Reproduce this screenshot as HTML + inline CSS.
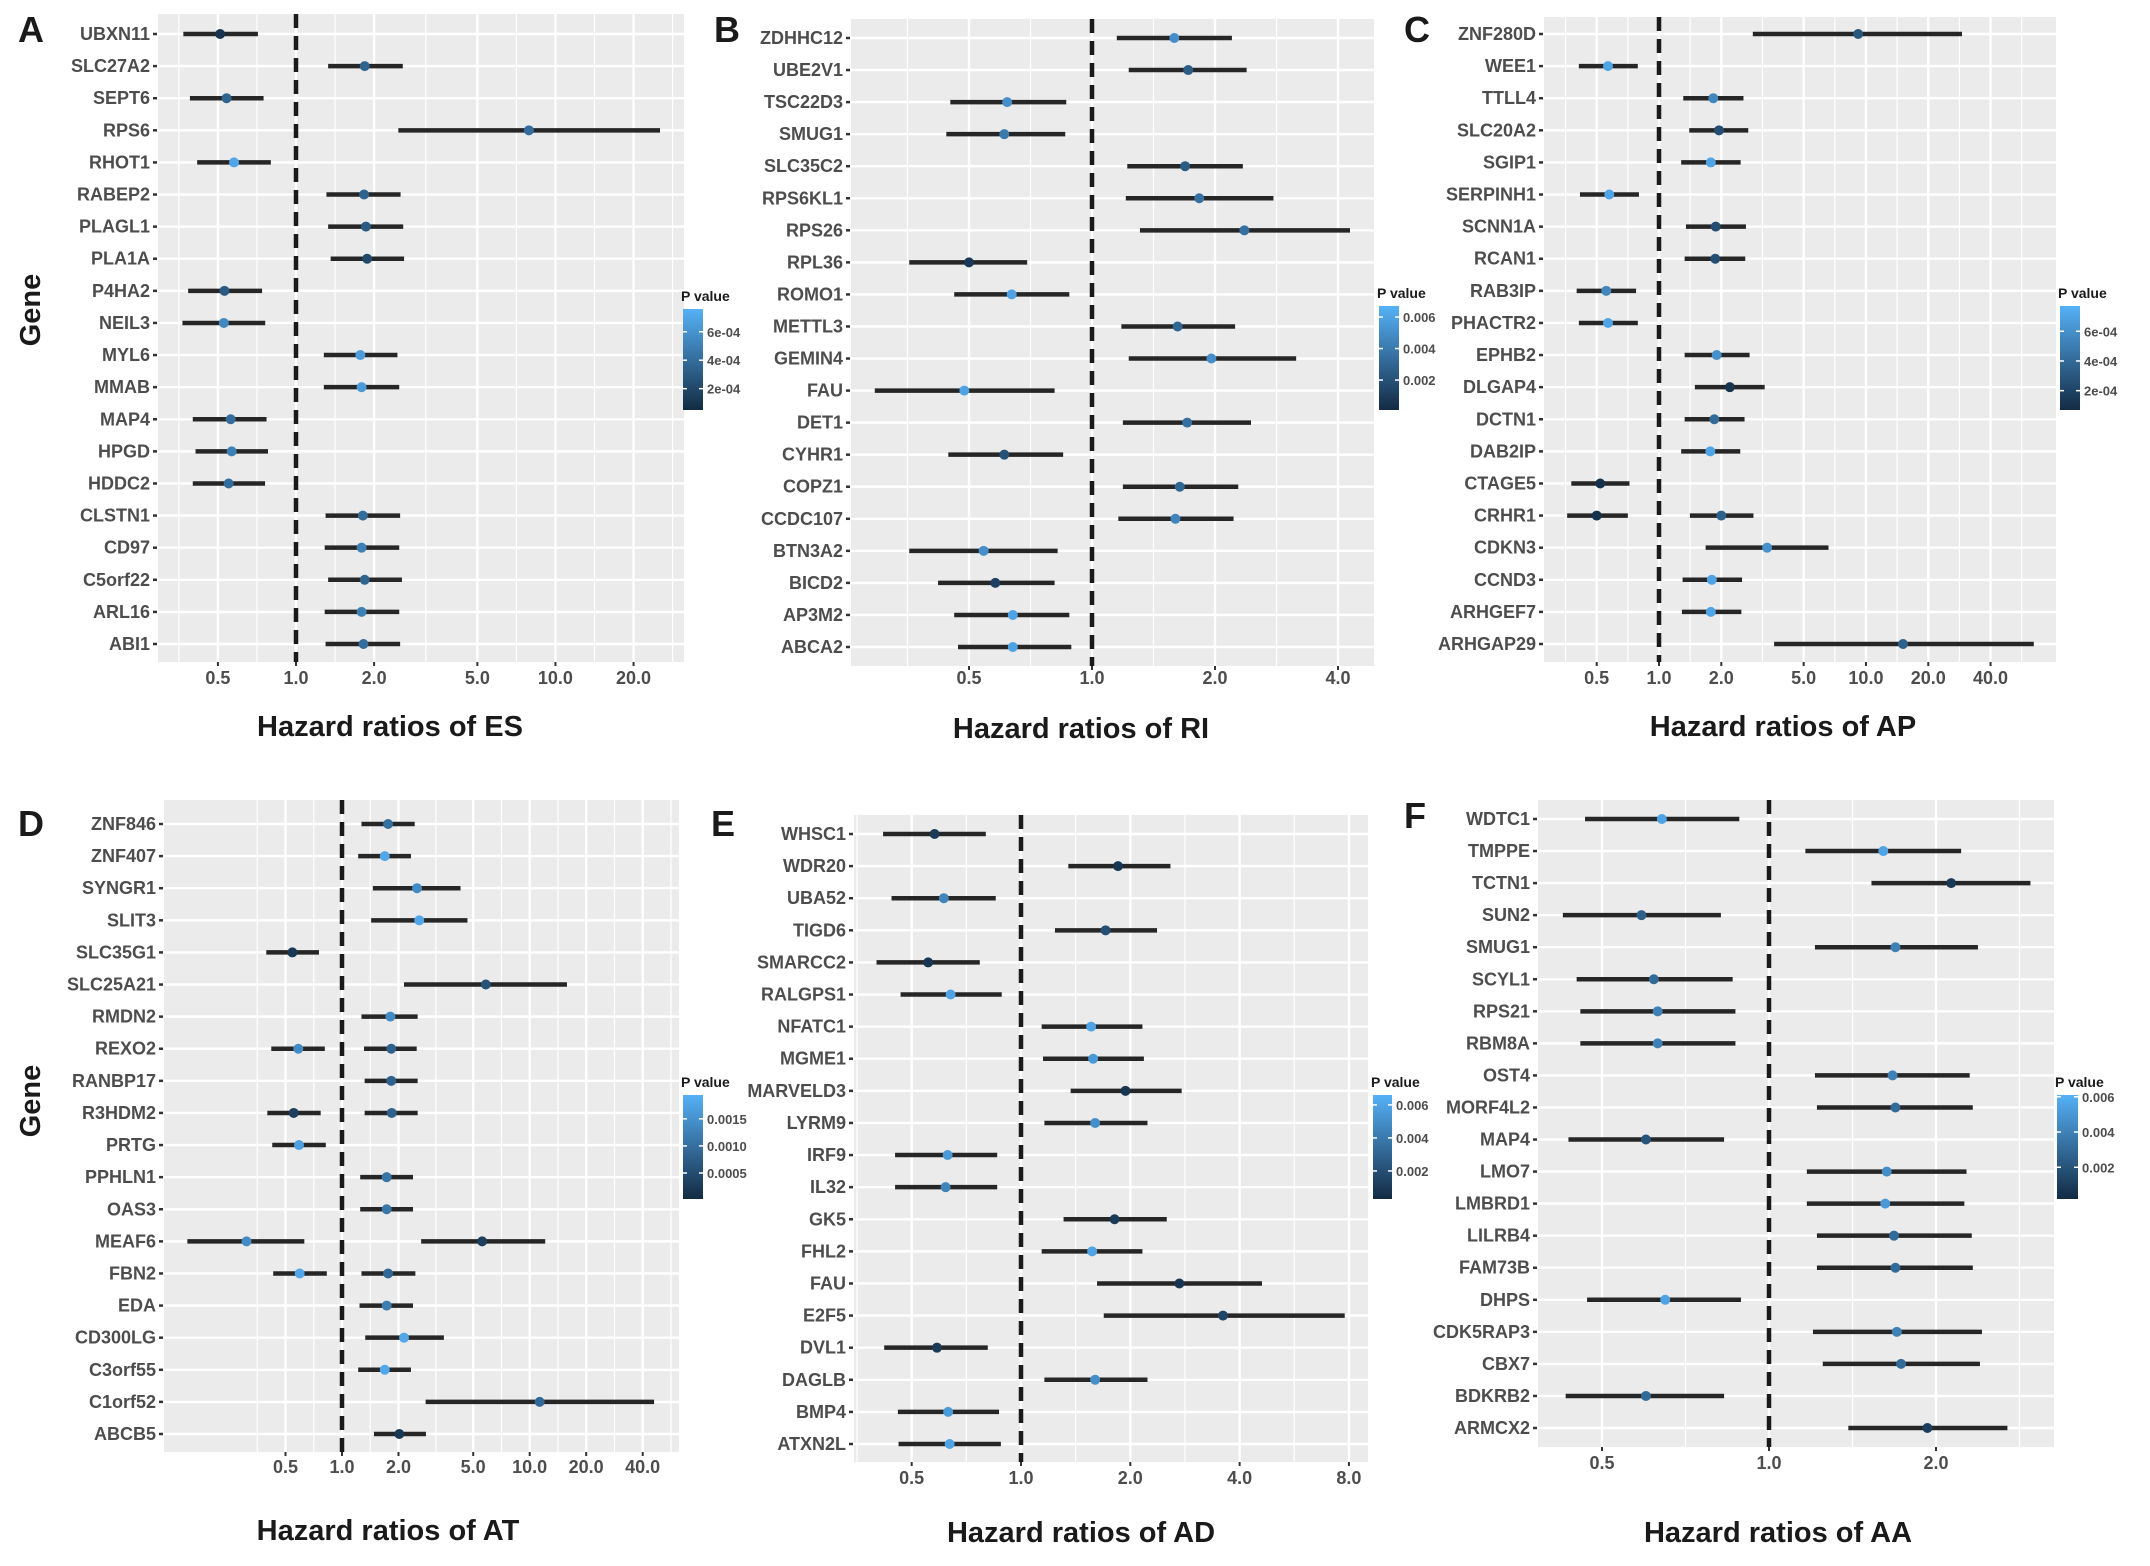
<!DOCTYPE html>
<html><head><meta charset="utf-8">
<style>
html,body{margin:0;padding:0;background:#fff;}
svg{display:block;}
text{font-family:"Liberation Sans",Arial,sans-serif;font-weight:bold;}
</style></head>
<body>
<svg id="fig" width="2150" height="1566" viewBox="0 0 2150 1566" xmlns="http://www.w3.org/2000/svg"></svg>
<script>
// ---------- Panel A (ES) ----------
const aRows = ["UBXN11","SLC27A2","SEPT6","RPS6","RHOT1","RABEP2","PLAGL1","PLA1A","P4HA2","NEIL3","MYL6","MMAB","MAP4","HPGD","HDDC2","CLSTN1","CD97","C5orf22","ARL16","ABI1"];
const aGenes = aRows.slice();
const aHR = [0.51,1.84,0.54,7.9,0.577,1.83,1.86,1.88,0.53,0.527,1.77,1.79,0.56,0.565,0.55,1.81,1.79,1.84,1.79,1.82];
const aLo = [0.368,1.33,0.39,2.48,0.416,1.31,1.33,1.36,0.384,0.365,1.28,1.28,0.40,0.41,0.40,1.30,1.29,1.33,1.29,1.30];
const aHi = [0.713,2.58,0.75,25.3,0.80,2.53,2.59,2.61,0.74,0.761,2.46,2.50,0.77,0.78,0.76,2.52,2.50,2.56,2.50,2.52];
const aP = [1e-4,3.5e-4,3.5e-4,4e-4,7e-4,3.5e-4,3e-4,2e-4,3e-4,5.5e-4,6.5e-4,6.5e-4,4e-4,5e-4,4e-4,4e-4,5e-4,3.5e-4,5e-4,4e-4];
const aTicks = [0.5,1,2,5,10,20];
const aTickLabels = ["0.5","1.0","2.0","5.0","10.0","20.0"];
const aLegTicks = [2e-4,4e-4,6e-4];
const aLegLabels = ["2e-04","4e-04","6e-04"];

// ---------- Panel B (RI) ----------
const bRows = ["ZDHHC12","UBE2V1","TSC22D3","SMUG1","SLC35C2","RPS6KL1","RPS26","RPL36","ROMO1","METTL3","GEMIN4","FAU","DET1","CYHR1","COPZ1","CCDC107","BTN3A2","BICD2","AP3M2","ABCA2"];
const bGenes = bRows.slice();
const bHR = [1.59,1.72,0.62,0.61,1.69,1.83,2.36,0.50,0.636,1.62,1.96,0.487,1.71,0.61,1.64,1.60,0.543,0.58,0.64,0.64];
const bLo = [1.15,1.23,0.45,0.44,1.22,1.21,1.31,0.357,0.46,1.18,1.23,0.294,1.19,0.445,1.19,1.16,0.357,0.42,0.46,0.47];
const bHi = [2.2,2.39,0.865,0.86,2.34,2.78,4.28,0.694,0.88,2.24,3.16,0.81,2.45,0.85,2.28,2.22,0.824,0.81,0.88,0.89];
const bP = [0.005,0.0025,0.005,0.004,0.0025,0.0035,0.0035,0.0008,0.006,0.003,0.005,0.006,0.0035,0.002,0.003,0.0045,0.005,0.0012,0.006,0.006];
const bTicks = [0.5,1,2,4];
const bTickLabels = ["0.5","1.0","2.0","4.0"];
const bLegTicks = [0.002,0.004,0.006];
const bLegLabels = ["0.002","0.004","0.006"];

// ---------- Panel C (AP) ----------
const cRows = ["ZNF280D","WEE1","TTLL4","SLC20A2","SGIP1","SERPINH1","SCNN1A","RCAN1","RAB3IP","PHACTR2","EPHB2","DLGAP4","DCTN1","DAB2IP","CTAGE5","CRHR1","CDKN3","CCND3","ARHGEF7","ARHGAP29"];
const cGenes = ["ZNF280D","WEE1","TTLL4","SLC20A2","SGIP1","SERPINH1","SCNN1A","RCAN1","RAB3IP","PHACTR2","EPHB2","DLGAP4","DCTN1","DAB2IP","CTAGE5","CRHR1","CRHR1","CDKN3","CCND3","ARHGEF7","ARHGAP29"];
const cHR = [9.17,0.567,1.83,1.95,1.78,0.575,1.88,1.87,0.556,0.567,1.90,2.20,1.85,1.77,0.52,0.50,2.0,3.33,1.80,1.78,15.1];
const cLo = [2.84,0.41,1.31,1.40,1.28,0.415,1.35,1.33,0.40,0.41,1.33,1.49,1.33,1.28,0.377,0.36,1.41,1.68,1.30,1.29,3.6];
const cHi = [29.1,0.79,2.56,2.70,2.48,0.80,2.63,2.61,0.775,0.79,2.74,3.24,2.59,2.47,0.72,0.707,2.86,6.59,2.52,2.50,64.7];
const cP = [3e-4,7e-4,5.5e-4,2.5e-4,7e-4,7e-4,2.5e-4,2.5e-4,5.5e-4,7e-4,6e-4,1.2e-4,4e-4,7e-4,1e-4,1e-4,3.5e-4,6e-4,7e-4,7e-4,3.5e-4];
const cTicks = [0.5,1,2,5,10,20,40];
const cTickLabels = ["0.5","1.0","2.0","5.0","10.0","20.0","40.0"];
const cLegTicks = [2e-4,4e-4,6e-4];
const cLegLabels = ["2e-04","4e-04","6e-04"];

// ---------- Panel D (AT) ----------
const dRows = ["ZNF846","ZNF407","SYNGR1","SLIT3","SLC35G1","SLC25A21","RMDN2","REXO2","RANBP17","R3HDM2","PRTG","PPHLN1","OAS3","MEAF6","FBN2","EDA","CD300LG","C3orf55","C1orf52","ABCB5"];
const dGenes = ["ZNF846","ZNF407","SYNGR1","SLIT3","SLC35G1","SLC25A21","RMDN2","REXO2","REXO2","RANBP17","R3HDM2","R3HDM2","PRTG","PPHLN1","OAS3","MEAF6","MEAF6","FBN2","FBN2","EDA","CD300LG","C3orf55","C1orf52","ABCB5"];
const dHR = [1.76,1.69,2.51,2.58,0.544,5.84,1.81,0.585,1.83,1.83,0.553,1.84,0.59,1.73,1.73,0.31,5.58,0.595,1.76,1.73,2.14,1.69,11.3,2.02];
const dLo = [1.27,1.22,1.46,1.43,0.395,2.14,1.27,0.42,1.31,1.32,0.40,1.32,0.425,1.25,1.25,0.15,2.64,0.43,1.27,1.24,1.33,1.22,2.79,1.48];
const dHi = [2.44,2.33,4.28,4.66,0.754,15.8,2.53,0.81,2.5,2.53,0.77,2.53,0.82,2.39,2.39,0.63,12.1,0.83,2.46,2.39,3.49,2.33,46,2.8];
const dP = [0.001,0.0018,0.0014,0.0018,0.0002,0.0006,0.0014,0.0014,0.0008,0.0008,0.0003,0.0008,0.0017,0.0011,0.0011,0.0014,0.0003,0.0018,0.0009,0.0012,0.0018,0.0018,0.0009,0.0002];
const dTicks = [0.5,1,2,5,10,20,40];
const dTickLabels = ["0.5","1.0","2.0","5.0","10.0","20.0","40.0"];
const dLegTicks = [0.0005,0.0010,0.0015];
const dLegLabels = ["0.0005","0.0010","0.0015"];

// ---------- Panel E (AD) ----------
const eRows = ["WHSC1","WDR20","UBA52","TIGD6","SMARCC2","RALGPS1","NFATC1","MGME1","MARVELD3","LYRM9","IRF9","IL32","GK5","FHL2","FAU","E2F5","DVL1","DAGLB","BMP4","ATXN2L"];
const eGenes = eRows.slice();
const eHR = [0.578,1.85,0.613,1.71,0.555,0.64,1.56,1.58,1.94,1.60,0.628,0.62,1.81,1.57,2.73,3.60,0.587,1.60,0.63,0.636];
const eLo = [0.417,1.35,0.44,1.24,0.40,0.466,1.14,1.15,1.37,1.16,0.45,0.45,1.31,1.14,1.62,1.69,0.42,1.16,0.458,0.46];
const eHi = [0.80,2.58,0.852,2.37,0.77,0.885,2.16,2.18,2.77,2.23,0.86,0.86,2.52,2.16,4.61,7.79,0.81,2.23,0.87,0.88];
const eP = [0.001,0.0008,0.0045,0.002,0.0008,0.006,0.006,0.0055,0.0008,0.005,0.0055,0.0045,0.001,0.006,0.0008,0.0015,0.001,0.005,0.0055,0.006];
const eTicks = [0.5,1,2,4,8];
const eTickLabels = ["0.5","1.0","2.0","4.0","8.0"];
const eLegTicks = [0.002,0.004,0.006];
const eLegLabels = ["0.002","0.004","0.006"];

// ---------- Panel F (AA) ----------
const fRows = ["WDTC1","TMPPE","TCTN1","SUN2","SMUG1","SCYL1","RPS21","RBM8A","OST4","MORF4L2","MAP4","LMO7","LMBRD1","LILRB4","FAM73B","DHPS","CDK5RAP3","CBX7","BDKRB2","ARMCX2"];
const fGenes = fRows.slice();
const fHR = [0.641,1.607,2.13,0.589,1.69,0.62,0.63,0.63,1.67,1.69,0.60,1.63,1.62,1.68,1.69,0.65,1.70,1.73,0.60,1.93];
const fLo = [0.466,1.163,1.53,0.425,1.21,0.45,0.457,0.457,1.21,1.22,0.435,1.17,1.17,1.22,1.22,0.47,1.20,1.25,0.43,1.39];
const fHi = [0.884,2.22,2.96,0.819,2.38,0.86,0.87,0.87,2.30,2.33,0.83,2.27,2.25,2.32,2.33,0.89,2.42,2.40,0.83,2.69];
const fP = [0.0055,0.0055,0.0008,0.0025,0.004,0.003,0.004,0.004,0.004,0.003,0.002,0.0045,0.005,0.003,0.003,0.0055,0.004,0.003,0.003,0.001];
const fTicks = [0.5,1,2];
const fTickLabels = ["0.5","1.0","2.0"];
const fLegTicks = [0.002,0.004,0.006];
const fLegLabels = ["0.002","0.004","0.006"];

const NS = "http://www.w3.org/2000/svg";
const svg = document.getElementById("fig");
function mk(tag, attrs, parent){
  const el = document.createElementNS(NS, tag);
  for (const k in attrs) el.setAttribute(k, attrs[k]);
  (parent || svg).appendChild(el);
  return el;
}
const C0=[19,43,67], C1=[86,177,247];
function pcol(t){
  t=Math.max(0,Math.min(1,t));
  const c=C0.map((v,i)=>Math.round(v+(C1[i]-v)*t));
  return "rgb("+c.join(",")+")";
}

function panel(cfg, rows, genes, hr, lo, hi, pv, ticks, tickLabels, legTicks, legLabels){
  const g = mk("g", {});
  
  
  const xs = v => cfg.x1 + Math.log2(v) * cfg.l2;
  const ys = i => cfg.r0 + i * (cfg.r1 - cfg.r0) / (rows.length - 1);
  const bg = mk("rect", {x:cfg.px0, y:cfg.py0, width:cfg.px1-cfg.px0, height:cfg.py1-cfg.py0, fill:"#ebebeb"}, g);
  
  
  // minor vertical grid
  const lt = ticks.map(t=>Math.log2(t));
  const step = lt.length>1 ? lt.map((v,i)=>i? v-lt[i-1]:null).slice(1) : [1];
  const minors = [];
  for (let i=0;i<lt.length-1;i++) minors.push((lt[i]+lt[i+1])/2);
  minors.push(lt[0]-step[0]/2, lt[lt.length-1]+step[step.length-1]/2);
  minors.forEach(m=>{
    const x = cfg.x1 + m*cfg.l2;
    if (x>cfg.px0 && x<cfg.px1){
      const ln = mk("line",{x1:x,x2:x,y1:cfg.py0,y2:cfg.py1,stroke:"#fff","stroke-width":1.2},g);
      
      
    }
  });
  ticks.forEach((t,i)=>{
    const x = xs(t);
    const ln = mk("line",{x1:x,x2:x,y1:cfg.py0,y2:cfg.py1,stroke:"#fff","stroke-width":2.4},g);
    
    
    const tk = mk("line",{x1:x,x2:x,y1:cfg.py1,y2:cfg.py1+4,stroke:"#333","stroke-width":2},g);
    
    
    const tl = mk("text",{x:x,y:cfg.ty,"text-anchor":"middle","font-size":18,fill:"#4d4d4d"},g);
    tl.textContent = tickLabels[i];
    
    
  });
  rows.forEach((r,i)=>{
    const y = ys(i);
    const ln = mk("line",{x1:cfg.px0,x2:cfg.px1,y1:y,y2:y,stroke:"#fff","stroke-width":2.4},g);
    
    
    const tk = mk("line",{x1:cfg.px0-5,x2:cfg.px0-1,y1:y,y2:y,stroke:"#333","stroke-width":2.5},g);
    
    
    const tl = mk("text",{x:cfg.px0-8,y:y+6,"text-anchor":"end","font-size":18,fill:"#4d4d4d"},g);
    tl.textContent = r;
    
    
  });
  // reference line at HR = 1
  const rx = xs(1);
  const ref = mk("line",{x1:rx,x2:rx,y1:cfg.py0,y2:cfg.py1,stroke:"#1a1a1a","stroke-width":4.5,"stroke-dasharray":"14 8"},g);
  
  
  // error bars + points
  genes.forEach((gn,i)=>{
    const y = ys(rows.indexOf(gn));
    const eb = mk("line",{x1:xs(lo[i]),x2:xs(hi[i]),y1:y,y2:y,stroke:"#262626","stroke-width":4.5},g);
    
    
    const t = (pv[i]-cfg.pmin)/(cfg.pmax-cfg.pmin);
    const pt = mk("circle",{cx:xs(hr[i]),cy:y,r:5,fill:pcol(t)},g);
    
    
  });
  // title
  const tt = mk("text",{x:cfg.tx,y:cfg.tty,"text-anchor":"middle","font-size":29,fill:"#1a1a1a"},g);
  tt.textContent = cfg.title;
  
  
  // panel letter
  const pl = mk("text",{x:cfg.lx,y:cfg.ly,"font-size":36,fill:"#1a1a1a"},g);
  pl.textContent = cfg.key.toUpperCase();
  
  
  if (cfg.gene){
    const gt = mk("text",{x:0,y:0,"text-anchor":"middle","font-size":29,fill:"#1a1a1a",transform:"translate("+(cfg.gene[0])+","+cfg.gene[1]+") rotate(-90)"},g);
    gt.textContent = "Gene";
    
    
  }
  // legend
  const lg = mk("g",{},g);
  
  
  const id = "grad"+cfg.key;
  const defs = mk("defs",{},lg);
  const gr = mk("linearGradient",{id:id,x1:0,y1:1,x2:0,y2:0},defs);
  mk("stop",{offset:0,"stop-color":pcol(0)},gr);
  mk("stop",{offset:1,"stop-color":pcol(1)},gr);
  const L = cfg.leg;
  const lb = mk("rect",{x:L[0],y:L[1],width:L[2],height:L[3],fill:"url(#"+id+")"},lg);
  
  
  const lt2 = mk("text",{x:L[0]-2,y:L[1]-8,"font-size":14,fill:"#1a1a1a"},lg);
  lt2.textContent = "P value";
  
  
  legTicks.forEach((v,i)=>{
    const yy = L[1]+L[3] - (v-cfg.pmin)/(cfg.pmax-cfg.pmin)*L[3];
    mk("line",{x1:L[0],x2:L[0]+4,y1:yy,y2:yy,stroke:"#fff","stroke-width":1.5},lg);
    mk("line",{x1:L[0]+L[2]-4,x2:L[0]+L[2],y1:yy,y2:yy,stroke:"#fff","stroke-width":1.5},lg);
    const tx = mk("text",{x:L[0]+L[2]+4,y:yy+5,"font-size":13,fill:"#4d4d4d"},lg);
    tx.textContent = legLabels[i];
    
    
  });
}

panel({key:"a",px0:158,px1:684,py0:14,py1:662,x1:296,l2:78.1,r0:34,r1:644,ty:684,tx:390,tty:736,title:"Hazard ratios of ES",lx:18,ly:42,gene:[40,310],leg:[683,309,20,101],pmin:0.5e-4,pmax:7.6e-4},
  aRows,aGenes,aHR,aLo,aHi,aP,aTicks,aTickLabels,aLegTicks,aLegLabels);
panel({key:"b",px0:851,px1:1374,py0:19,py1:666,x1:1092,l2:123,r0:38,r1:647,ty:684,tx:1081,tty:738,title:"Hazard ratios of RI",lx:714,ly:42,leg:[1379,306,20,104],pmin:0.0001,pmax:0.0067},
  bRows,bGenes,bHR,bLo,bHi,bP,bTicks,bTickLabels,bLegTicks,bLegLabels);
panel({key:"c",px0:1544,px1:2056,py0:17,py1:662,x1:1659,l2:62.3,r0:34,r1:644,ty:684,tx:1783,tty:736,title:"Hazard ratios of AP",lx:1404,ly:42,leg:[2060,306,20,104],pmin:0.7e-4,pmax:7.7e-4},
  cRows,cGenes,cHR,cLo,cHi,cP,cTicks,cTickLabels,cLegTicks,cLegLabels);
panel({key:"d",px0:164,px1:679,py0:800,py1:1452,x1:342,l2:56.5,r0:824,r1:1434,ty:1473,tx:388,tty:1540,title:"Hazard ratios of AT",lx:18,ly:836,gene:[40,1101],leg:[683,1095,20,104],pmin:0.00002,pmax:0.00194},
  dRows,dGenes,dHR,dLo,dHi,dP,dTicks,dTickLabels,dLegTicks,dLegLabels);
panel({key:"e",px0:854,px1:1368,py0:815,py1:1462,x1:1021,l2:109.3,r0:834,r1:1444,ty:1484,tx:1081,tty:1542,title:"Hazard ratios of AD",lx:711,ly:836,leg:[1373,1095,19,104],pmin:0.0003,pmax:0.0066},
  eRows,eGenes,eHR,eLo,eHi,eP,eTicks,eTickLabels,eLegTicks,eLegLabels);
panel({key:"f",px0:1538,px1:2054,py0:800,py1:1447,x1:1769,l2:167,r0:819,r1:1428,ty:1469,tx:1778,tty:1542,title:"Hazard ratios of AA",lx:1404,ly:828,leg:[2057,1095,21,104],pmin:0.0002,pmax:0.0061},
  fRows,fGenes,fHR,fLo,fHi,fP,fTicks,fTickLabels,fLegTicks,fLegLabels);
</script>
</body></html>
